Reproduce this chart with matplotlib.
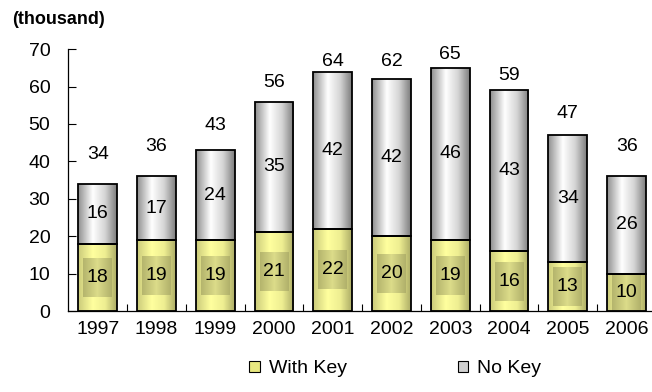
import numpy as np
import matplotlib
matplotlib.use("Agg")
import matplotlib.pyplot as plt
from matplotlib.colors import LinearSegmentedColormap
from matplotlib.patches import Patch, Rectangle

years = ["1997", "1998", "1999", "2000", "2001", "2002", "2003", "2004", "2005", "2006"]
with_key = [18, 19, 19, 21, 22, 20, 19, 16, 13, 10]
no_key = [16, 17, 24, 35, 42, 42, 46, 43, 34, 26]
totals = [34, 36, 43, 56, 64, 62, 65, 59, 47, 36]

# gap between bar top and the total label (data units), as laid out in the source
total_gap = [7.9, 8.1, 6.7, 5.2, 2.6, 4.6, 3.7, 3.9, 5.9, 8.1]

plt.rcParams["font.family"] = ["Liberation Sans", "DejaVu Sans"]
FS = 14

gray_cmap = LinearSegmentedColormap.from_list(
    "g", [(0, "#8e8e8e"), (0.38, "#ffffff"), (0.7, "#d4d4d4"), (1, "#7c7c7c")])
yellow_cmap = LinearSegmentedColormap.from_list(
    "y", [(0, "#caca7a"), (0.38, "#ffff9e"), (0.7, "#eeee92"), (1, "#acac66")])
inner_cmap = LinearSegmentedColormap.from_list(
    "i", [(0, "#b4b46c"), (0.5, "#dcdc8a"), (1, "#b0b06a")])

grad = np.linspace(0, 1, 256).reshape(1, -1)


def fill_gradient(ax, patch, cmap, clip=None):
    x0, y0 = patch.get_x(), patch.get_y()
    w, h = patch.get_width(), patch.get_height()
    im = ax.imshow(grad, cmap=cmap, extent=[x0, x0 + w, y0, y0 + h],
                   aspect="auto", interpolation="bilinear", zorder=1)
    im.set_clip_path(clip if clip is not None else patch)


fig = plt.figure(figsize=(6.52, 3.92), dpi=100)
ax = fig.add_axes([0.1048, 0.2066, 0.895, 0.668])

x = np.arange(len(years))
width = 0.66
bot = ax.bar(x, with_key, width, facecolor="none", edgecolor="black", linewidth=1.3, zorder=3)
top = ax.bar(x, no_key, width, bottom=with_key, facecolor="none", edgecolor="black",
             linewidth=1.3, zorder=3)

for i, (b, t) in enumerate(zip(bot, top)):
    fill_gradient(ax, b, yellow_cmap)
    fill_gradient(ax, t, gray_cmap)
    cy = with_key[i] / 2
    inner = Rectangle((x[i] - 0.245, cy - 5.2), 0.49, 10.4, facecolor="none", edgecolor="none")
    ax.add_patch(inner)
    fill_gradient(ax, inner, inner_cmap, clip=b)
    ax.text(x[i], cy, str(with_key[i]), ha="center", va="center", fontsize=FS, zorder=4)
    ax.text(x[i], with_key[i] + no_key[i] / 2, str(no_key[i]), ha="center", va="center",
            fontsize=FS, zorder=4)
    ax.text(x[i], totals[i] + total_gap[i], str(totals[i]), ha="center", va="center",
            fontsize=FS, zorder=4)

ax.set_xlim(-0.5, 9.43)
ax.set_ylim(0, 70)
ax.set_yticks(range(0, 71, 10))
ax.set_xticks(x)
ax.set_xticklabels(years)
ax.set_xticks(np.arange(0.5, 9.5, 1), minor=True)
ax.tick_params(axis="x", which="major", length=0, pad=7, labelsize=FS)
ax.tick_params(axis="x", which="minor", direction="in", length=5, width=0.8)
ax.tick_params(axis="y", direction="in", length=6, width=0.8, pad=13, labelsize=FS)
for s in ["top", "right"]:
    ax.spines[s].set_visible(False)
for s in ["left", "bottom"]:
    ax.spines[s].set_linewidth(0.9)

fig.text(0.018, 0.95, "(thousand)", fontsize=13, fontweight="bold", ha="left", va="center")

handles = [Patch(facecolor="#e8e880", edgecolor="black", linewidth=0.8),
           Patch(facecolor="#d0d0d0", edgecolor="black", linewidth=0.8)]
fig.legend(handles, ["With Key", "No Key"], ncol=2, loc="center",
           bbox_to_anchor=(0.606, 0.059), frameon=False, fontsize=FS,
           handlelength=0.55, handleheight=0.55, handletextpad=0.45, columnspacing=5.7)

fig.savefig("out.png", dpi=100)
